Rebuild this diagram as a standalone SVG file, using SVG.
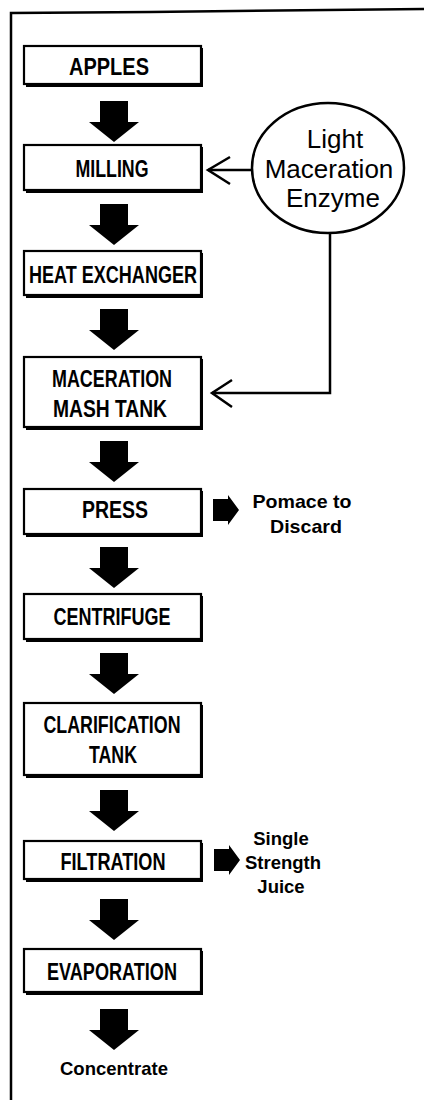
<svg xmlns="http://www.w3.org/2000/svg" width="424" height="1103" viewBox="0 0 424 1103">
<style>
.sh{fill:#000}
.bx{fill:#fff;stroke:#000;stroke-width:2.2}
.lb{font-family:"Liberation Sans",Arial,sans-serif;font-weight:bold;font-size:24px;fill:#000;text-anchor:middle}
.ct{font-family:"Liberation Sans",Arial,sans-serif;font-size:26px;fill:#000;text-anchor:middle}
.sd{font-family:"Liberation Sans",Arial,sans-serif;font-weight:bold;font-size:18.5px;fill:#000;text-anchor:middle}
.ln{fill:none;stroke:#000;stroke-width:2.5;stroke-linejoin:miter}
.ar{fill:#000}
</style>
<defs>
<path id="down" d="M-14,0 H14 V21 H25 L0,41 L-25,21 H-14 Z"/>
<path id="side" d="M0,4 H15 V0 L26,15 L15,30 V26 H0 Z"/>
</defs>
<g id="frame">
<path class="ln" d="M11,1100 V13 L150,12 L424,9"/>
</g>
<g id="connectors">
<use href="#down" class="ar" x="114" y="101"/>
<use href="#down" class="ar" x="114" y="204"/>
<use href="#down" class="ar" x="114" y="309"/>
<use href="#down" class="ar" x="114" y="441"/>
<use href="#down" class="ar" x="114" y="547"/>
<use href="#down" class="ar" x="114" y="653"/>
<use href="#down" class="ar" x="114" y="790"/>
<use href="#down" class="ar" x="114" y="899"/>
<use href="#down" class="ar" x="114" y="1009"/>
<use href="#side" class="ar" x="213" y="495"/>
<use href="#side" class="ar" x="214" y="845"/>
<path class="ln" d="M252,170 H208"/>
<path class="ln" d="M230,157 L208,170 L230,184"/>
<path class="ln" d="M330,233 V393 H212"/>
<path class="ln" d="M232,380 L212,393 L232,407"/>
</g>
<g id="enzyme">
<ellipse cx="328" cy="168" rx="76" ry="65" fill="#fff" stroke="#000" stroke-width="2.5"/>
<text class="ct" x="335" y="148">Light</text>
<text class="ct" x="329" y="178">Maceration</text>
<text class="ct" x="333" y="207">Enzyme</text>
</g>
<g id="apples">
<rect class="sh" x="26" y="48" width="177" height="39"/>
<rect class="bx" x="24" y="46" width="177" height="38"/>
<text class="lb" x="109" y="75" textLength="80" lengthAdjust="spacingAndGlyphs">APPLES</text>
</g>
<g id="milling">
<rect class="sh" x="26" y="147" width="177" height="46"/>
<rect class="bx" x="24" y="145" width="177" height="45"/>
<text class="lb" x="112" y="177" textLength="73" lengthAdjust="spacingAndGlyphs">MILLING</text>
</g>
<g id="heat">
<rect class="sh" x="26" y="253" width="177" height="45"/>
<rect class="bx" x="24" y="251" width="177" height="44"/>
<text class="lb" x="113" y="283" textLength="168" lengthAdjust="spacingAndGlyphs">HEAT EXCHANGER</text>
</g>
<g id="maceration">
<rect class="sh" x="26" y="359" width="177" height="71"/>
<rect class="bx" x="24" y="357" width="177" height="70"/>
<text class="lb" x="112" y="387" textLength="120" lengthAdjust="spacingAndGlyphs">MACERATION</text>
<text class="lb" x="110" y="417" textLength="114" lengthAdjust="spacingAndGlyphs">MASH TANK</text>
</g>
<g id="press">
<rect class="sh" x="26" y="491" width="177" height="46"/>
<rect class="bx" x="24" y="489" width="177" height="45"/>
<text class="lb" x="115" y="518" textLength="66" lengthAdjust="spacingAndGlyphs">PRESS</text>
</g>
<g id="pomace">
<text class="sd" x="302" y="508" textLength="99" lengthAdjust="spacingAndGlyphs">Pomace to</text>
<text class="sd" x="306" y="533" textLength="72" lengthAdjust="spacingAndGlyphs">Discard</text>
</g>
<g id="centrifuge">
<rect class="sh" x="26" y="596" width="177" height="46"/>
<rect class="bx" x="24" y="594" width="177" height="45"/>
<text class="lb" x="112" y="625" textLength="117" lengthAdjust="spacingAndGlyphs">CENTRIFUGE</text>
</g>
<g id="clarification">
<rect class="sh" x="26" y="705" width="177" height="73"/>
<rect class="bx" x="24" y="703" width="177" height="72"/>
<text class="lb" x="112" y="733" textLength="137" lengthAdjust="spacingAndGlyphs">CLARIFICATION</text>
<text class="lb" x="113" y="763" textLength="48" lengthAdjust="spacingAndGlyphs">TANK</text>
</g>
<g id="filtration">
<rect class="sh" x="26" y="843" width="177" height="39"/>
<rect class="bx" x="24" y="841" width="177" height="38"/>
<text class="lb" x="113" y="870" textLength="105" lengthAdjust="spacingAndGlyphs">FILTRATION</text>
</g>
<g id="juice">
<text class="sd" x="281" y="845">Single</text>
<text class="sd" x="283" y="869">Strength</text>
<text class="sd" x="281" y="893">Juice</text>
</g>
<g id="evaporation">
<rect class="sh" x="26" y="951" width="177" height="44"/>
<rect class="bx" x="24" y="949" width="177" height="43"/>
<text class="lb" x="112" y="980" textLength="130" lengthAdjust="spacingAndGlyphs">EVAPORATION</text>
</g>
<g id="concentrate">
<text class="sd" x="114" y="1075" textLength="108" lengthAdjust="spacingAndGlyphs">Concentrate</text>
</g>
</svg>
